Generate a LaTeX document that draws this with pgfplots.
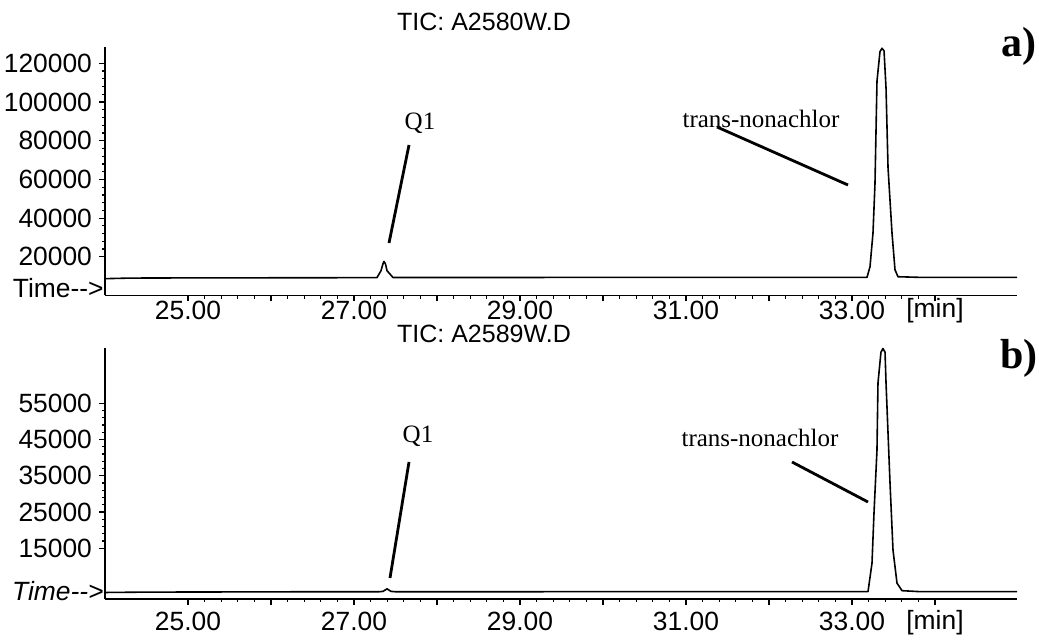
\documentclass[border=0pt]{standalone}
\usepackage{fontspec}
\setmainfont{Liberation Sans}
\newfontfamily\serif{Liberation Serif}
\usepackage{pgfplots}
\pgfplotsset{compat=1.18}

\pgfplotsset{chrom/.style={
  scale only axis, width=456pt,
  axis x line*=bottom, axis y line*=left,
  axis line style={-, line width=0.8pt},
  xmin=24.0, xmax=34.988,
  xtick={25,...,34}, xticklabels={25.00,,27.00,,29.00,,31.00,,33.00,},
  minor x tick num=4, minor y tick num=4,
  tick align=outside,
  major tick length=3pt, minor tick length=1.6pt,
  tick style={black, line width=0.6pt},
  ticklabel style={font=\fontsize{13.2}{15}\selectfont},
  /pgf/number format/assume math mode=true,
  scaled y ticks=false,
  yticklabel style={/pgf/number format/.cd, fixed, 1000 sep={}},
}}

\begin{document}
\begin{tikzpicture}
\path[use as bounding box] (0,0) rectangle (519.5pt,-320.5pt);

% ---------- panel a ----------
\begin{axis}[chrom, at={(52.5pt,-147.75pt)}, anchor=south west,
  height=124pt, ymin=0, ymax=128200,
  ytick={20000,40000,...,120000},
  xticklabel style={yshift=3.5pt}]
\addplot[black, no marks, line width=0.8pt, line join=round] coordinates {
(24.0,8700) (24.3,9000) (25.0,9100) (26.0,9150) (26.8,9200) (27.277,9250)
(27.325,12800) (27.35,16500) (27.361,17600) (27.38,16200) (27.398,12800) (27.47,9300)
(28.0,9300) (29.0,9300) (30.0,9400) (31.0,9400) (32.0,9400) (33.181,9400)
(33.217,14900) (33.253,32300) (33.277,57900) (33.301,110800) (33.337,126000)
(33.361,127800) (33.386,126500) (33.41,107200) (33.434,66150) (33.482,32300)
(33.518,13300) (33.554,9700) (33.8,9400) (34.2,9400) (34.988,9400)
};
\end{axis}

% ---------- panel b ----------
\begin{axis}[chrom, at={(52.5pt,-299.5pt)}, anchor=south west,
  height=125.5pt, ymin=1000, ymax=70250,
  ytick={15000,25000,...,55000}]
\addplot[black, no marks, line width=0.8pt, line join=round] coordinates {
(24.0,2800) (24.5,2900) (25.5,2950) (26.5,3000) (27.3,3000)
(27.349,3100) (27.398,3800) (27.446,3100) (27.5,3000)
(28.0,3000) (29.0,3000) (30.0,3050) (31.0,3050) (32.0,3050) (33.193,3050)
(33.241,10900) (33.265,24700) (33.301,42100) (33.313,60600) (33.349,69100)
(33.373,70100) (33.398,69100) (33.41,60600) (33.458,33000) (33.494,14500)
(33.542,5400) (33.602,3300) (33.8,3050) (34.2,3050) (34.988,3050)
};
\end{axis}

\begin{scope}[x=0.5pt, y=-0.5pt]
\def\fs{\fontsize{12.5}{14}\selectfont}
\def\fsb{\fontsize{13.2}{15}\selectfont}
% titles
\node[font=\fs] at (484,22) {TIC: A2580W.D};
\node[font=\fs] at (484,334) {TIC: A2589W.D};
% panel letters
\node[font=\serif\bfseries\fontsize{21}{24}\selectfont] at (1019,46) {a)};
\node[font=\serif\bfseries\fontsize{21}{24}\selectfont] at (1019,358) {b)};
% Time labels
\node[font=\fsb, anchor=east, inner sep=0pt] at (104,288) {Time-{}->};
\node[font=\fsb\itshape, anchor=east, inner sep=0pt] at (104,591) {Time-{}->};
% [min]
\node[font=\fsb] at (935,311) {[min]};
\node[font=\fsb] at (935,623) {[min]};
% annotations panel a
\node[font=\serif\fs] at (420,123) {Q1};
\draw[line width=1.4pt] (409,145) -- (389,243);
\node[font=\serif\fs] at (761,119) {trans-nonachlor};
\draw[line width=1.4pt] (717,127) -- (848,185);
% annotations panel b
\node[font=\serif\fs] at (418,436) {Q1};
\draw[line width=1.4pt] (409,462) -- (390,578);
\node[font=\serif\fs] at (760,438) {trans-nonachlor};
\draw[line width=1.4pt] (792,462) -- (868,502);
\end{scope}
\end{tikzpicture}
\end{document}
